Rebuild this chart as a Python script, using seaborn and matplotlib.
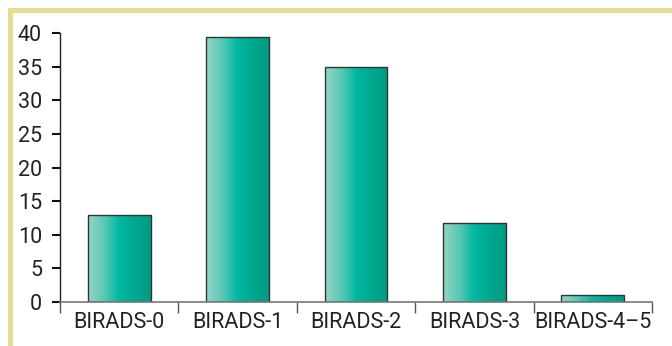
import numpy as np
import pandas as pd
import matplotlib
matplotlib.use('Agg')
import matplotlib.pyplot as plt
import seaborn as sns
from matplotlib.colors import LinearSegmentedColormap
from matplotlib.patches import Rectangle

# data
categories = ['BIRADS-0', 'BIRADS-1', 'BIRADS-2', 'BIRADS-3', 'BIRADS-4–5']
values = [13, 39.4, 35, 11.7, 1]
y_ticks = [0, 5, 10, 15, 20, 25, 30, 35, 40]

df = pd.DataFrame({'cat': categories, 'val': values})

sns.set_style('ticks')
plt.rcParams['font.family'] = ['Roboto', 'DejaVu Sans']

fig = plt.figure(figsize=(6.72, 3.46), dpi=100)
ax = fig.add_axes([60 / 672, 1 - 302 / 346, 592 / 672, (302 - 33) / 346])

sns.barplot(data=df, x='cat', y='val', ax=ax, width=0.53, color='#00b5a0',
            edgecolor='#333333', linewidth=1.0)

# gradient fill on each bar
grad = LinearSegmentedColormap.from_list('g', ['#93d5c6', '#5cc8b5', '#00b8a2', '#00a88d', '#009c84'])
gimg = np.linspace(0, 1, 256).reshape(1, -1)
for p in ax.patches:
    x0, y0 = p.get_x(), p.get_y()
    w, h = p.get_width(), p.get_height()
    im = ax.imshow(gimg, cmap=grad, aspect='auto', extent=[x0, x0 + w, y0, y0 + h],
                   zorder=p.get_zorder() - 0.1)
    im.set_clip_path(p)
    p.set_facecolor('none')

ax.set_xlim(-0.5, 4.5)
ax.set_ylim(0, 40)
ax.set_yticks(y_ticks)
ax.set_yticklabels([str(t) for t in y_ticks], fontsize=15.5, color='#222222')
ax.set_xticks(np.arange(-0.5, 5, 1))
ax.set_xticklabels([])
ax.set_xticks(np.arange(5), minor=True)
ax.set_xticklabels(categories, minor=True, fontsize=15.5, color='#222222')
ax.set_xlabel('')
ax.set_ylabel('')

for s in ['top', 'right']:
    ax.spines[s].set_visible(False)
ax.spines['left'].set_color('#222222')
ax.spines['bottom'].set_color('#777777')
ax.spines['left'].set_linewidth(1.0)
ax.spines['bottom'].set_linewidth(1.2)

ax.tick_params(axis='x', which='major', direction='out', length=8, width=1, color='#555555')
ax.tick_params(axis='x', which='minor', length=0, pad=7)
ax.tick_params(axis='y', which='major', direction='out', length=6, width=1.5,
               color='#111111', pad=7, left=True)
for t in ax.yaxis.get_major_ticks():
    t.tick1line.set_visible(True)
    t.tick1line.set_zorder(5)

# frame border
border = '#e6dc8e'
fig.patches.append(Rectangle((8 / 672, 1 - 13 / 346), 1, 5 / 346, transform=fig.transFigure,
                             facecolor=border, edgecolor='none'))
fig.patches.append(Rectangle((8 / 672, 0), 5 / 672, 1 - 8 / 346, transform=fig.transFigure,
                             facecolor=border, edgecolor='none'))

fig.savefig('out.png', dpi=100)
